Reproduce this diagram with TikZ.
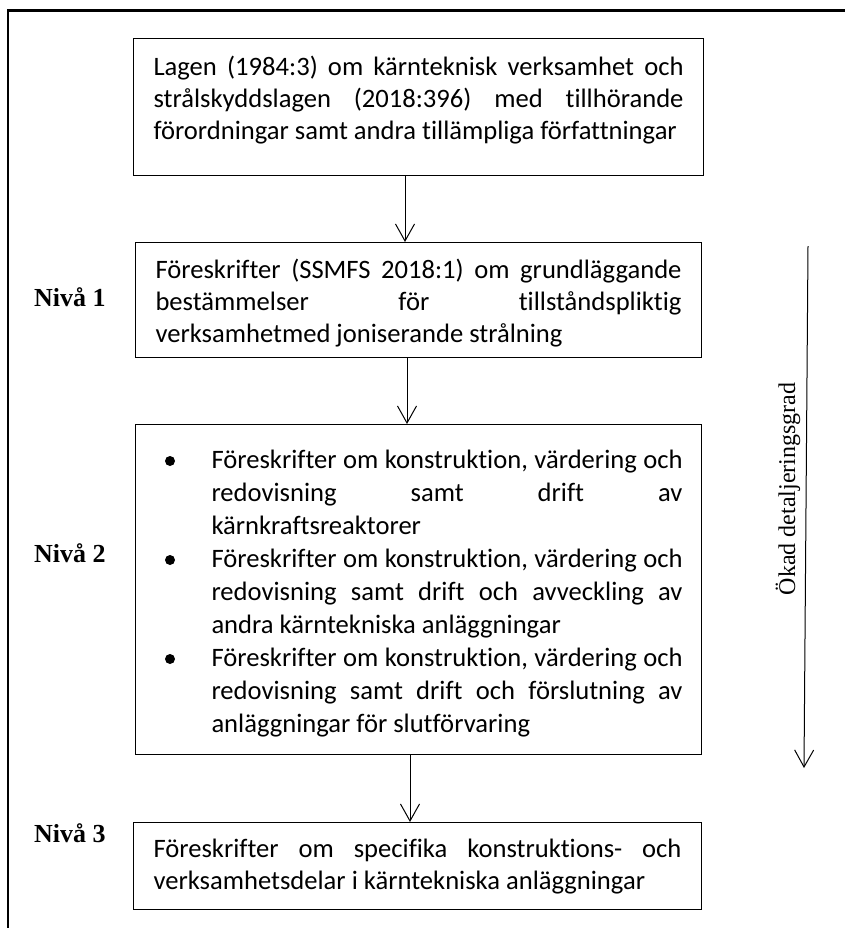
\documentclass[tikz,border=0pt]{standalone}
\usepackage{fontspec}
\setmainfont{Carlito}[Ligatures=NoCommon]
\newfontfamily\timesfont{Liberation Serif}
\usetikzlibrary{arrows.meta}
% justified box text: no hyphenation, allow loose lines
\tolerance=10000
\hbadness=10000
\hyphenpenalty=10000
\exhyphenpenalty=10000
\begin{document}
\begin{tikzpicture}[x=1bp,y=-1bp,
  box/.style={draw=black, line width=1bp, anchor=north west, inner ysep=0pt,
    inner xsep=20bp, align=justify, font=\fontsize{26.6bp}{32bp}\selectfont},
  level/.style={anchor=base west, inner sep=0pt,
    font=\timesfont\bfseries\fontsize{26bp}{30bp}\selectfont},
  flow/.style={line width=1bp, -{Straight Barb[length=17bp,width=19bp]}},
]
\useasboundingbox (0,0) rectangle (845,928);
\clip (0,0) rectangle (845,928);

% outer frame (open to the right and bottom)
\draw[line width=2.2bp] (8,940) -- (8,10.5) -- (860,10.5);

% legislation
\node[box, text width=530bp, text height=37bp, text depth=100bp] (law) at (133,38)
  {Lagen (1984:3) om kärnteknisk verksamhet och\linebreak
   strålskyddslagen (2018:396) med tillhörande\linebreak
   förordningar samt andra tillämpliga författningar};

% level 1
\node[box, text width=526bp, text height=36bp, text depth=79bp] (lvl1) at (135,242)
  {Föreskrifter (SSMFS 2018:1) om grundläggande\linebreak
   bestämmelser för tillståndspliktig\linebreak
   verksamhetmed joniserande strålning};

% level 2 (bulleted list)
\node[box, inner xsep=0pt, text width=566bp, text height=44bp, text depth=286bp] (lvl2) at (135,424)
  {\leftskip=76bp\rightskip=19bp\parskip=0pt\parindent=0pt\fontsize{26.6bp}{33bp}\selectfont
   Föreskrifter om konstruktion, värdering och\linebreak
   redovisning samt drift av\linebreak
   kärnkraftsreaktorer\par
   Föreskrifter om konstruktion, värdering och\linebreak
   redovisning samt drift och avveckling av\linebreak
   andra kärntekniska anläggningar\par
   Föreskrifter om konstruktion, värdering och\linebreak
   redovisning samt drift och förslutning av\linebreak
   anläggningar för slutförvaring\par};
\fill (170,461) circle (5bp);
\fill (170,560) circle (5bp);
\fill (170,659) circle (5bp);

% level 3
\node[box, text width=528bp, text height=35bp, text depth=52bp] (lvl3) at (133,822)
  {Föreskrifter om specifika konstruktions- och\linebreak
   verksamhetsdelar i kärntekniska anläggningar};

% connectors
\coordinate (c1) at (405,0);
\coordinate (c2) at (407,0);
\coordinate (c3) at (410,0);
\draw[flow] (law.south -| c1) -- (lvl1.north -| c1);
\draw[flow] (lvl1.south -| c2) -- (lvl2.north -| c2);
\draw[flow] (lvl2.south -| c3) -- (lvl3.north -| c3);

% level labels
\node[level] (n1) at (34,306) {Nivå 1};
\node[level] (n2) at (34,562) {Nivå 2};
\node[level] (n3) at (34,842) {Nivå 3};

% detail direction
\coordinate (dtop) at (808,246);
\coordinate (dbot) at (804,768);
\draw[flow] (dtop) -- (dbot);
\node[rotate=90, inner sep=0pt, font=\timesfont\fontsize{24bp}{28bp}\selectfont] (dlabel) at (788,489)
  {Ökad detaljeringsgrad};
\end{tikzpicture}
\end{document}
